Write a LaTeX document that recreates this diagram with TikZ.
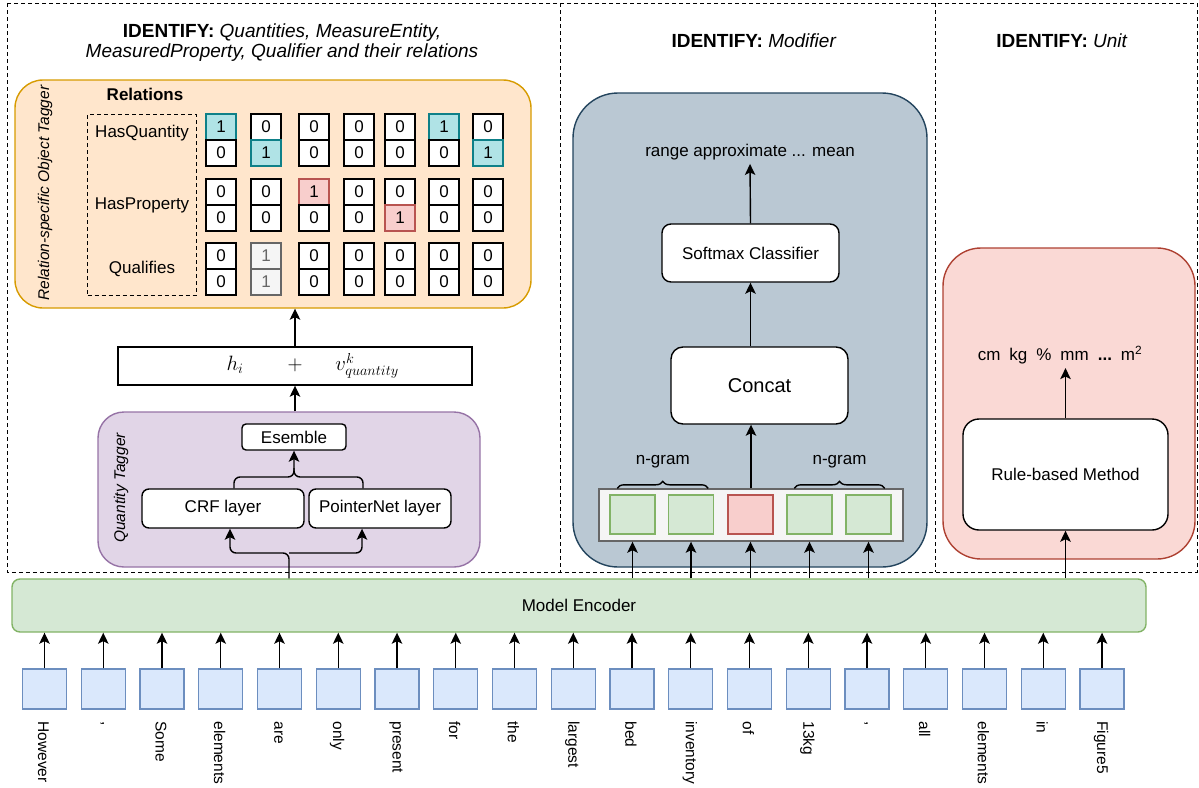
\documentclass[tikz,border=0pt]{standalone}
\usepackage{fontspec}
\setmainfont{Liberation Sans}
\usepackage{amsmath}
\usetikzlibrary{positioning,arrows.meta,calc,decorations.pathreplacing}

\definecolor{orgf}{HTML}{FFE6CC}
\definecolor{orgd}{HTML}{D79B00}
\definecolor{purf}{HTML}{E1D5E7}
\definecolor{purd}{HTML}{9673A6}
\definecolor{bluf}{HTML}{BAC8D3}
\definecolor{blud}{HTML}{23445D}
\definecolor{unif}{HTML}{FAD9D5}
\definecolor{unid}{HTML}{AE4132}
\definecolor{encf}{HTML}{D5E8D4}
\definecolor{encd}{HTML}{82B366}
\definecolor{tokf}{HTML}{DAE8FC}
\definecolor{tokd}{HTML}{6C8EBF}
\definecolor{redf}{HTML}{F8CECC}
\definecolor{redd}{HTML}{B85450}
\definecolor{grayf}{HTML}{F5F5F5}
\definecolor{grayd}{HTML}{666666}
\colorlet{cf0}{white}\colorlet{cd0}{black}\colorlet{ct0}{black}
\definecolor{cf1}{HTML}{B0E3E6}\definecolor{cd1}{HTML}{0E8088}\colorlet{ct1}{black}
\colorlet{cf2}{redf}\colorlet{cd2}{redd}\colorlet{ct2}{black}
\colorlet{cf3}{grayf}\colorlet{cd3}{grayd}\colorlet{ct3}{grayd}

\begin{document}
\begin{tikzpicture}[x=1pt,y=-1pt,line width=1.4pt,>={Stealth[length=11pt,width=10.5pt,inset=2.5pt]},
	every node/.style={font=\fontsize{17}{20}\selectfont},
	dashframe/.style={dash pattern=on 4pt off 3pt,line width=1pt},
	panel/.style={draw,inner sep=0pt,rounded corners=#1},
	blk/.style={draw,fill=white,rounded corners=7pt,inner sep=0pt,align=center},
	cell/.style={draw=cd#1,fill=cf#1,text=ct#1,minimum width=30pt,minimum height=26pt,inner sep=0pt},
	tok/.style={draw=tokd,fill=tokf,minimum width=44pt,minimum height=40pt,inner sep=0pt},
	sq/.style={minimum width=45pt,minimum height=39pt,inner sep=0pt},
	ttl/.style={align=center,font=\fontsize{19}{20}\selectfont},
	vlbl/.style={rotate=90,font=\itshape\fontsize{15.5}{18}\selectfont},
	word/.style={rotate=-90,anchor=west,inner sep=0pt,font=\fontsize{15.5}{18}\selectfont}]
	\useasboundingbox (0,0) rectangle (1199,787);

	\draw[dashframe] (7,3) rectangle (1197,572);
	\draw[dashframe] (560,3) -- (560,572);
	\draw[dashframe] (935,3) -- (935,572);

	\node[ttl] (t1) at (282,43) {\textbf{IDENTIFY:} \textit{Quantities, MeasureEntity,}\\\textit{MeasuredProperty, Qualifier and their relations}};
	\node[ttl] (t2) at (754,41) {\textbf{IDENTIFY:} \textit{Modifier}};
	\node[ttl] (t3) at (1062,41) {\textbf{IDENTIFY:} \textit{Unit}};

	\node[panel=28pt,fill=orgf,draw=orgd,minimum width=516pt,minimum height=228pt] (otag) at (273,194) {};
	\node[panel=26pt,fill=purf,draw=purd,minimum width=382pt,minimum height=155pt] (qtag) at (289,489.5) {};
	\node[panel=45pt,fill=bluf,draw=blud,minimum width=354pt,minimum height=474pt] (mod) at (750,330) {};
	\node[panel=38pt,fill=unif,draw=unid,minimum width=252pt,minimum height=311pt] (unit) at (1069,403.5) {};
	\node[draw=encd,fill=encf,rounded corners=8pt,minimum width=1134pt,minimum height=53pt,inner sep=0pt] (enc) at (579,605.5) {Model Encoder};

	\node[vlbl] (olbl) at (45,193) {Relation-specific Object Tagger};
	\node[font=\bfseries\fontsize{17}{20}\selectfont] (rel) at (145,94) {Relations};
	\node[draw,dashframe,minimum width=108.5pt,minimum height=181pt,inner sep=0pt] (relbox) at (141.75,204.5) {};
	\node (hq) at (142,133) {HasQuantity};
	\node (hp) at (142,205) {HasProperty};
	\node (ql) at (142,269) {Qualifies};
	\foreach \x/\ka/\kb/\kc/\kd/\ke/\kf [count=\i] in {221/1/0/0/0/0/0,266/0/1/0/0/3/3,314/0/0/2/0/0/0,359/0/0/0/0/0/0,400/0/0/0/2/0/0,444/1/0/0/0/0/0,488/0/1/0/0/0/0}
		\foreach \y/\k [count=\j] in {127/\ka,153/\kb,192/\kc,218/\kd,256/\ke,282/\kf}
			\node[cell=\k] (m\j-\i) at (\x,\y) {\ifnum\k=0 0\else 1\fi};

	\node[draw,fill=white,minimum width=354pt,minimum height=38pt,inner sep=0pt,font=\fontsize{21}{24}\selectfont] (hsum) at (295,366) {\makebox[0pt][r]{$h_i$\hspace{44pt}}$+$\makebox[0pt][l]{\hspace{33pt}$v^{k}_{quantity}$}};
	\draw[->] (hsum.north) -- (hsum.north |- otag.south);
	\draw[->] (hsum.south |- qtag.north) -- (hsum.south);

	\node[vlbl] (qlbl) at (121,488) {Quantity Tagger};
	\node[blk,rounded corners=4pt,minimum width=104pt,minimum height=26pt] (ens) at (294,437) {Esemble};
	\node[blk,minimum width=162pt,minimum height=39pt] (crf) at (223,508.5) {CRF layer};
	\node[blk,minimum width=142pt,minimum height=39pt] (ptr) at (380,508.5) {PointerNet layer};
	\coordinate (qmerge) at (294,477);
	\coordinate (qsplit) at (289,553);
	\draw[->,rounded corners=6pt] ([xshift=11pt]crf.north) |- (qmerge) -- (ens.south);
	\draw[rounded corners=6pt] ([xshift=-17pt]ptr.north) |- (qmerge) -- ++(0,-9);
	\draw[->,rounded corners=6pt] (enc.north -| qsplit) -- (qsplit) -| ([xshift=7pt]crf.south);
	\draw[->,rounded corners=6pt] (qsplit) -| ([xshift=-18pt]ptr.south);

	\node (rng) at (750,152) {range approximate ... mean};
	\node[blk,rounded corners=9pt,minimum width=177pt,minimum height=58pt] (sm) at (750.5,253) {Softmax Classifier};
	\node[blk,rounded corners=12pt,minimum width=177pt,minimum height=77pt,font=\fontsize{20}{24}\selectfont] (cat) at (759.5,385.5) {Concat};
	\node[draw=grayd,fill=grayf,minimum width=304pt,minimum height=52pt,inner sep=0pt] (strip) at (751,515) {};
	\foreach \x/\cf/\cd [count=\i] in {632.5/encf/encd,691/encf/encd,750.5/redf/redd,809.5/encf/encd,868.5/encf/encd}{
		\node[sq,fill=\cf,draw=\cd] (sq\i) at (\x,514.5) {};
		\draw[->] (enc.north -| sq\i) -- (strip.south -| sq\i);
	}
	\draw[decorate,decoration={brace,amplitude=7pt}] ([xshift=8pt,yshift=6pt]sq1.north west) -- ([xshift=-6pt,yshift=6pt]sq2.north east) node[midway,above=16pt] (ng1) {n-gram};
	\draw[decorate,decoration={brace,amplitude=7pt}] ([xshift=8pt,yshift=6pt]sq4.north west) -- ([xshift=-7pt,yshift=6pt]sq5.north east) node[midway,above=16pt] (ng2) {n-gram};
	\draw[->] (strip.north) -- (strip.north |- cat.south);
	\draw[->] (cat.north -| sm) -- (sm.south);
	\draw[->] (sm.north) -- (rng.south);

	\node (units) at (1060,355) {cm\hspace{9pt}kg\hspace{9pt}\%\hspace{9pt}mm\hspace{9pt}\textbf{...}\hspace{9pt}m\textsuperscript{2}};
	\node[blk,rounded corners=16pt,minimum width=205pt,minimum height=111pt] (rule) at (1065.5,474.5) {Rule-based Method};
	\draw[->] (rule.north) -- (rule.north |- units.south);
	\draw[->] (enc.north -| rule) -- (rule.south);

	\foreach \w [count=\i] in {However,{,},Some,elements,are,only,present,for,the,largest,bed,inventory,of,13kg,{,},all,elements,in,Figure5}{
		\node[tok] (tk\i) at ({44.5+58.75*(\i-1)},689) {};
		\node[word] (tw\i) at ($(tk\i.south)+(-1,11)$) {\w};
		\draw[->] (tk\i) -- (tk\i |- enc.south);
	}
\end{tikzpicture}
\end{document}
